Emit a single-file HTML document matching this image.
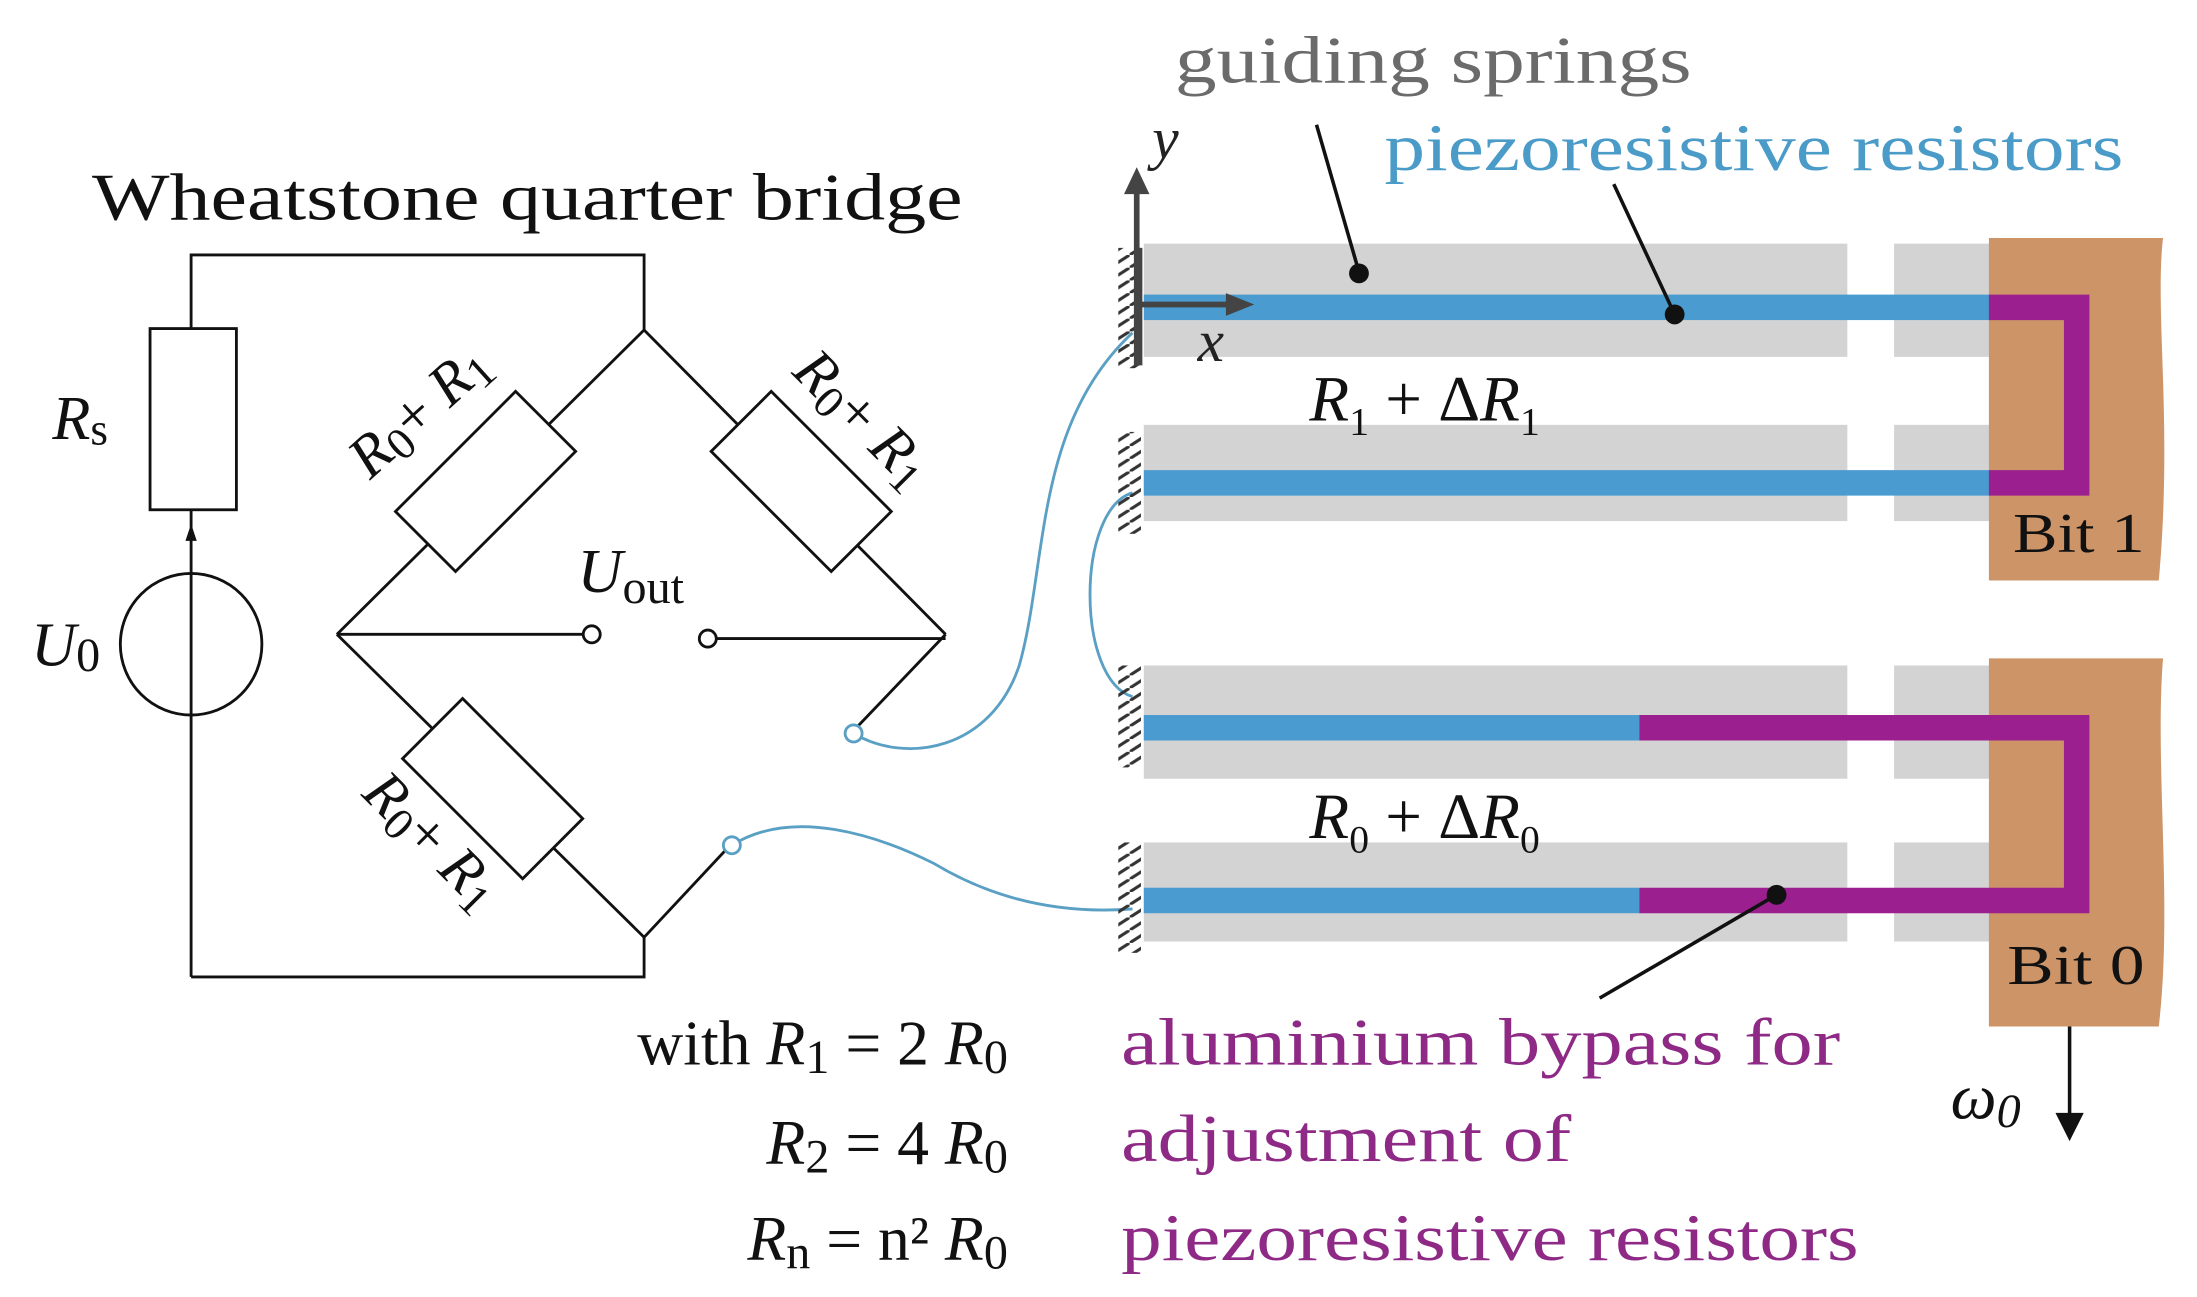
<!DOCTYPE html>
<html><head><meta charset="utf-8"><style>
html,body{margin:0;padding:0;background:#fff;}
svg{display:block;}
text{font-family:"Liberation Serif",serif;}
</style></head><body>
<svg width="2197" height="1297" viewBox="0 0 1552 916" xmlns="http://www.w3.org/2000/svg">
<defs>
<pattern id="hatch" width="14" height="9" patternUnits="userSpaceOnUse">
<line x1="0" y1="9" x2="14" y2="0" stroke="#333" stroke-width="2.2"/>
</pattern>
</defs>
<!-- LEFT CIRCUIT -->
<text x="65" y="155" font-size="47" fill="#111" textLength="615" lengthAdjust="spacingAndGlyphs">Wheatstone quarter bridge</text>
<g stroke="#111" stroke-width="2" fill="none">
<polyline points="135,232 135,180 455,180 455,233"/>
<rect x="106" y="232" width="61" height="128" fill="#fff"/>
<line x1="135" y1="360" x2="135" y2="690"/>
<circle cx="135" cy="455" r="50"/>
<polyline points="135,690 455,690 455,662"/>
<line x1="455" y1="233" x2="238" y2="448"/>
<line x1="455" y1="233" x2="668" y2="448"/>
<line x1="238" y1="448" x2="455" y2="662"/>
<line x1="668" y1="448" x2="603" y2="516"/>
<line x1="455" y1="662" x2="513" y2="600"/>
<line x1="238" y1="448" x2="412" y2="448"/>
<line x1="506" y1="451" x2="668" y2="451"/>
<g transform="translate(343,340) rotate(-45)"><rect x="-60" y="-30" width="120" height="60" fill="#fff"/></g>
<g transform="translate(566,340) rotate(45)"><rect x="-60" y="-30" width="120" height="60" fill="#fff"/></g>
<g transform="translate(348,557) rotate(45)"><rect x="-60" y="-30" width="120" height="60" fill="#fff"/></g>
<circle cx="418" cy="448" r="6" fill="#fff"/>
<circle cx="500" cy="451" r="6" fill="#fff"/>
</g>
<polygon points="135,370 131,382 139,382" fill="#111"/>
<text x="37" y="310" font-size="44" font-style="italic" fill="#111">R<tspan font-size="32" font-style="normal" dy="4">s</tspan></text>
<text x="22" y="470" font-size="44" font-style="italic" fill="#111">U<tspan font-size="34" font-style="normal" dy="4">0</tspan></text>
<text x="408" y="418" font-size="44" font-style="italic" fill="#111">U<tspan font-size="34" font-style="normal" dy="8">out</tspan></text>
<text transform="translate(305,300) rotate(-42)" text-anchor="middle" font-size="42" fill="#111" font-style="italic">R<tspan font-size="32" font-style="normal" dy="6">0</tspan><tspan font-style="normal" dy="-6">+ </tspan>R<tspan font-size="32" font-style="normal" dy="6">1</tspan></text>
<text transform="translate(600,305) rotate(45)" text-anchor="middle" font-size="42" fill="#111" font-style="italic">R<tspan font-size="32" font-style="normal" dy="6">0</tspan><tspan font-style="normal" dy="-6">+ </tspan>R<tspan font-size="32" font-style="normal" dy="6">1</tspan></text>
<text transform="translate(296,603) rotate(45)" text-anchor="middle" font-size="42" fill="#111" font-style="italic">R<tspan font-size="32" font-style="normal" dy="6">0</tspan><tspan font-style="normal" dy="-6">+ </tspan>R<tspan font-size="32" font-style="normal" dy="6">1</tspan></text>
<g font-size="45" fill="#111" text-anchor="end">
<text x="712" y="752">with <tspan font-style="italic">R</tspan><tspan font-size="34" dy="6">1</tspan><tspan dy="-6"> = 2 </tspan><tspan font-style="italic">R</tspan><tspan font-size="34" dy="6">0</tspan></text>
<text x="712" y="822"><tspan font-style="italic">R</tspan><tspan font-size="34" dy="6">2</tspan><tspan dy="-6"> = 4 </tspan><tspan font-style="italic">R</tspan><tspan font-size="34" dy="6">0</tspan></text>
<text x="712" y="890"><tspan font-style="italic">R</tspan><tspan font-size="34" dy="6">n</tspan><tspan dy="-6"> = n² </tspan><tspan font-style="italic">R</tspan><tspan font-size="34" dy="6">0</tspan></text>
</g>
<!-- blue wires -->
<g stroke="#5a9fc4" stroke-width="2" fill="none">
<path d="M603,518 C640,540 700,530 720,470 C740,400 730,300 800,235"/>
<path d="M517,597 C560,570 620,590 660,610 C710,640 760,645 800,642"/>
<path d="M800,348 C760,360 760,480 800,492"/>
<circle cx="603" cy="518" r="6" fill="#fff"/>
<circle cx="517" cy="597" r="6" fill="#fff"/>
</g>
<!-- RIGHT: springs -->
<g fill="#d3d3d3">
<rect x="808" y="172" width="497" height="80"/><rect x="1338" y="172" width="70" height="80"/>
<rect x="808" y="300" width="497" height="68"/><rect x="1338" y="300" width="70" height="68"/>
<rect x="808" y="470" width="497" height="80"/><rect x="1338" y="470" width="70" height="80"/>
<rect x="808" y="595" width="497" height="70"/><rect x="1338" y="595" width="70" height="70"/>
</g>
<path d="M1405,168 L1528,168 C1522,220 1535,300 1525,410 L1405,410 Z" fill="#cd9468"/>
<path d="M1405,465 L1528,465 C1522,540 1535,640 1525,725 L1405,725 Z" fill="#cd9468"/>
<g fill="#4a9bd0">
<rect x="808" y="208" width="598" height="18"/>
<rect x="808" y="332" width="598" height="18"/>
<rect x="808" y="505" width="350" height="18"/>
<rect x="808" y="627" width="350" height="18"/>
</g>
<g fill="none" stroke="#9b1f8e" stroke-width="18">
<polyline points="1405,217 1467,217 1467,341 1405,341"/>
<polyline points="1158,514 1467,514 1467,636 1158,636"/>
</g>
<rect x="790" y="175" width="16" height="85" fill="url(#hatch)"/>
<rect x="790" y="305" width="16" height="72" fill="url(#hatch)"/>
<rect x="790" y="470" width="16" height="72" fill="url(#hatch)"/>
<rect x="790" y="595" width="16" height="78" fill="url(#hatch)"/>
<g stroke="#444" stroke-width="4">
<line x1="805" y1="175" x2="805" y2="258"/>
<line x1="803" y1="258" x2="803" y2="135"/>
<line x1="803" y1="215" x2="868" y2="215"/>
</g>
<polygon points="803,118 794,137 812,137" fill="#444"/>
<polygon points="886,215 866,207 866,223" fill="#444"/>
<text x="814" y="112" font-size="42" font-style="italic" fill="#222">y</text>
<text x="846" y="255" font-size="42" font-style="italic" fill="#222">x</text>
<text x="925" y="297" font-size="46" fill="#111"><tspan font-style="italic">R</tspan><tspan font-size="28" dy="10">1</tspan><tspan dy="-10"> + Δ</tspan><tspan font-style="italic">R</tspan><tspan font-size="28" dy="10">1</tspan></text>
<text x="925" y="592" font-size="46" fill="#111"><tspan font-style="italic">R</tspan><tspan font-size="28" dy="10">0</tspan><tspan dy="-10"> + Δ</tspan><tspan font-style="italic">R</tspan><tspan font-size="28" dy="10">0</tspan></text>
<text x="1422" y="390" font-size="40" fill="#111" textLength="93" lengthAdjust="spacingAndGlyphs">Bit 1</text>
<text x="1418" y="695" font-size="40" fill="#111" textLength="97" lengthAdjust="spacingAndGlyphs">Bit 0</text>
<text x="830" y="58" font-size="47" fill="#6b6b6b" textLength="365" lengthAdjust="spacingAndGlyphs">guiding springs</text>
<text x="978" y="120" font-size="47" fill="#4a9bc8" textLength="522" lengthAdjust="spacingAndGlyphs">piezoresistive resistors</text>
<g stroke="#111" stroke-width="2.5">
<line x1="930" y1="88" x2="960" y2="192"/>
<line x1="1140" y1="130" x2="1183" y2="222"/>
<line x1="1130" y1="705" x2="1255" y2="632"/>
<line x1="1462" y1="725" x2="1462" y2="790"/>
</g>
<circle cx="960" cy="193" r="7" fill="#111"/>
<circle cx="1183" cy="222" r="7" fill="#111"/>
<circle cx="1255" cy="632" r="7" fill="#111"/>
<polygon points="1462,806 1452,786 1472,786" fill="#111"/>
<text x="1378" y="790" font-size="46" font-style="italic" fill="#111">ω<tspan font-size="34" dy="6">0</tspan></text>
<g font-size="47" fill="#8e2a86">
<text x="792" y="752" textLength="508" lengthAdjust="spacingAndGlyphs">aluminium bypass for</text>
<text x="792" y="820" textLength="318" lengthAdjust="spacingAndGlyphs">adjustment of</text>
<text x="792" y="890" textLength="521" lengthAdjust="spacingAndGlyphs">piezoresistive resistors</text>
</g>
</svg>
</body></html>
